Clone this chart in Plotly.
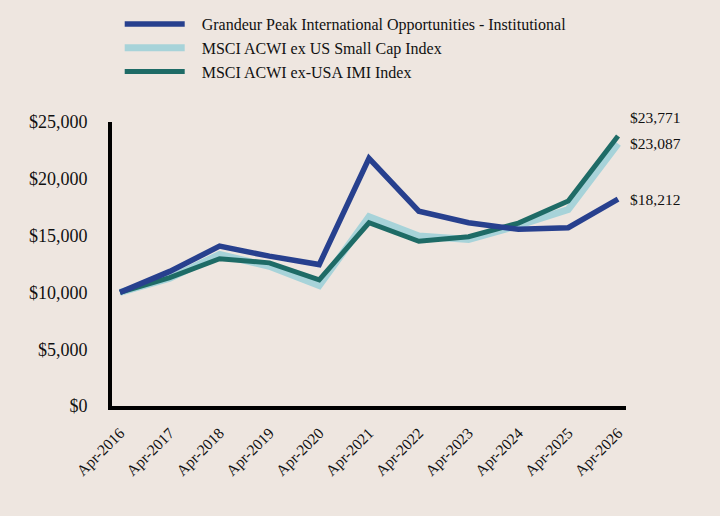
import plotly.graph_objects as go

years = ["Apr-2016", "Apr-2017", "Apr-2018", "Apr-2019", "Apr-2020", "Apr-2021",
         "Apr-2022", "Apr-2023", "Apr-2024", "Apr-2025", "Apr-2026"]
grandeur = [10000, 11850, 14070, 13190, 12450, 21800, 17150, 16130, 15550, 15700, 18212]
small_cap = [10000, 11250, 13340, 12300, 10600, 16660, 14960, 14660, 15900, 17300, 23087]
imi = [10000, 11300, 12960, 12600, 11100, 16130, 14500, 14900, 16100, 18050, 23771]

names = ["Grandeur Peak International Opportunities - Institutional",
         "MSCI ACWI ex US Small Cap Index",
         "MSCI ACWI ex-USA IMI Index"]
colors = ["#27408E", "#A7D3D9", "#1E6B66"]
widths = [5.5, 7, 5]
yticks = [0, 5000, 10000, 15000, 20000, 25000]
ytick_text = ["$0", "$5,000", "$10,000", "$15,000", "$20,000", "$25,000"]

xs = list(range(len(years)))
series = [grandeur, small_cap, imi]

fig = go.Figure()
pad = "\u00a0" * 3
# draw order: small cap, imi, grandeur on top
for idx in [1, 2, 0]:
    fig.add_trace(go.Scatter(x=xs, y=series[idx], mode="lines", name=pad + names[idx],
                             line=dict(color=colors[idx], width=widths[idx]),
                             legendrank=idx + 1))

font_family = "Liberation Serif, Times New Roman, serif"
for idx, ys in [(2, 18), (1, 0), (0, 0)]:
    v = series[idx][-1]
    fig.add_annotation(x=xs[-1], y=v, xref="x", yref="y", text=f"${v:,}",
                       showarrow=False, xanchor="left", xshift=10, yshift=ys,
                       font=dict(family=font_family, size=15.5, color="#111"))

bg = "#EEE6E0"
fig.update_layout(
    width=720, height=516,
    paper_bgcolor=bg, plot_bgcolor=bg,
    margin=dict(l=112, r=94, t=122, b=110, autoexpand=False),
    font=dict(family=font_family, size=16, color="#111"),
    showlegend=True,
    legend=dict(x=0.015, y=1.405, xanchor="left", yanchor="top",
                font=dict(family=font_family, size=16, color="#111"),
                bgcolor="rgba(0,0,0,0)", itemwidth=60, tracegroupgap=0),
    xaxis=dict(tickmode="array", tickvals=xs, ticktext=years, range=[-0.16, 10.16],
               showgrid=False, zeroline=False, showline=True, linecolor="black",
               linewidth=4, tickangle=-45, ticks="", ticklabelstandoff=8,
               tickfont=dict(size=15.5)),
    yaxis=dict(tickmode="array", tickvals=yticks, ticktext=ytick_text, range=[0, 25000],
               showgrid=False, zeroline=False, showline=True, linecolor="black",
               linewidth=4, ticks="", ticklabelstandoff=17,
               tickfont=dict(size=18)),
)

fig.write_html("out.html")
